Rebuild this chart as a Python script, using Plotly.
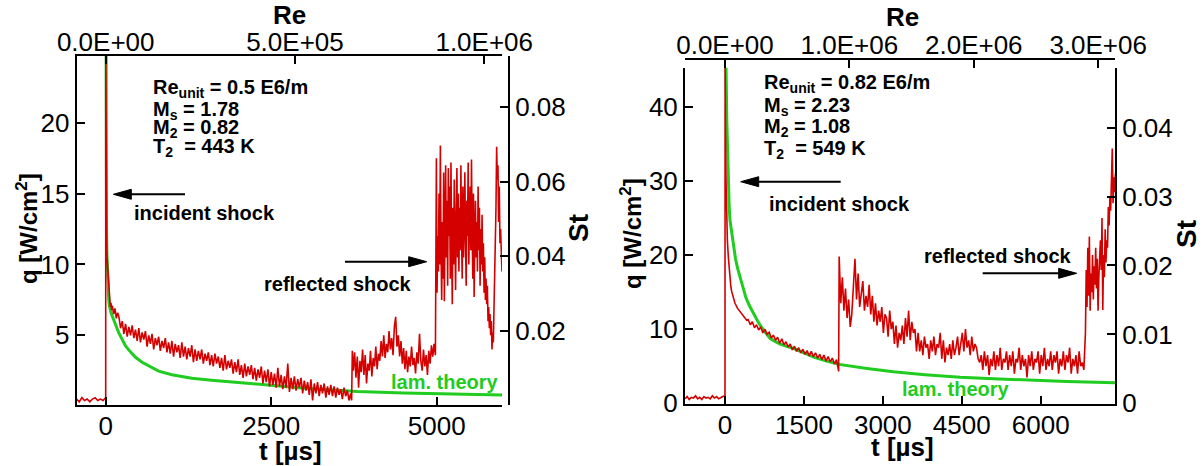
import plotly.graph_objects as go

W, H = 1204, 466
FONT = "Liberation Sans, Arial, Helvetica, sans-serif"
RED = "#d40000"
GREEN = "#1fcc1f"

# ---------------- left panel: measured heat flux q [W/cm^2] ----------------
L_BASE_T0, L_BASE_DT = -440, 40
L_BASE_Q = [0.5, 0.3, 0.6, 0.4, 0.5, 0.3, 0.5, 0.6, 0.4, 0.5, 0.4, 0.6]
L_RISE_T = [1, 3, 6, 10, 15, 20, 30, 40, 50, 60, 70, 80, 90, 100, 120, 140, 160, 180]
L_RISE_Q = [25.5, 21, 17, 14.5, 12, 10.5, 9.8, 8.5, 8.0, 7.6, 7.0, 7.3, 6.8, 7.1, 6.5, 6.9, 6.2, 6.6]
L_DECAY_T0, L_DECAY_DT = 200, 25
L_DECAY_Q = [
    6.3, 5.5, 6.0, 5.1, 5.8, 4.9, 5.6, 5.0, 5.7, 4.8,
    5.4, 4.6, 5.5, 4.5, 5.2, 4.7, 5.3, 4.2, 5.0, 4.4,
    5.1, 4.0, 4.8, 4.3, 4.9, 3.9, 4.6, 4.1, 4.8, 3.8,
    4.5, 3.7, 4.6, 3.5, 4.4, 3.8, 4.3, 3.4, 4.5, 3.5,
    4.2, 3.3, 4.1, 3.5, 4.3, 3.1, 4.0, 3.2, 3.9, 3.3,
    4.0, 3.0, 3.7, 3.2, 3.8, 2.9, 3.6, 2.8, 3.7, 3.0,
    3.5, 2.7, 3.4, 2.5, 3.6, 2.6, 3.2, 2.7, 3.3, 2.3,
    3.1, 2.4, 3.3, 2.2, 2.9, 2.0, 3.0, 2.1, 2.8, 2.2,
    2.9, 1.9, 2.7, 1.8, 2.6, 2.0, 2.8, 1.6, 2.5, 1.7,
    2.6, 1.4, 2.4, 1.5, 2.3, 1.3, 2.7, 1.4, 2.2, 1.2,
    2.1, 1.3, 3.0, 1.0, 2.0, 1.2, 2.1, 1.1, 1.9, 1.3,
    2.0, 0.9, 1.8, 1.1, 1.7, 0.8, 1.9, 0.4, 1.6, 0.9,
    1.7, 0.7, 1.5, 0.9, 1.6, 0.6, 1.4, 0.8, 1.5, 0.7,
    1.4, 0.6, 1.3, 0.8, 1.2, 0.5, 1.3, 0.7, 1.1, 0.4,
    0.9,
]
L_STEP_T = [3715, 3725]
L_STEP_Q = [0.4, 3.9]
L_MID_T0, L_MID_DT = 3740, 20
L_MID_Q = [
    2.5, 3.8, 2.0, 3.5, 1.3, 3.2, 2.4, 4.0, 2.2, 3.6,
    1.6, 3.0, 2.5, 3.9, 2.1, 3.4, 2.8, 4.2, 2.6, 3.7,
    3.2, 4.6, 3.5, 5.0, 3.4, 4.4, 3.8, 5.3, 4.0, 4.8,
    3.6, 5.6, 6.3, 4.2, 5.0, 3.5, 4.6, 3.0, 4.1, 2.6,
    3.9, 2.4, 3.5, 2.8, 4.2, 2.9, 3.4, 2.3, 3.8, 3.0,
    5.1, 3.2, 2.5, 4.0, 2.8, 3.6, 2.2, 3.9, 3.0, 4.3,
    3.5, 4.4, 3.6,
]
L_HIGH_T0, L_HIGH_DT = 4995, 10
L_HIGH_Q = [
    17.5, 8.0, 12.0, 9.5, 15.0, 10.0, 18.4, 11.0, 7.5, 13.0,
    9.0, 16.5, 7.4, 12.5, 17.0, 10.5, 14.5, 8.5, 16.8, 12.0,
    15.5, 9.0, 17.2, 11.5, 7.2, 14.0, 10.0, 16.0, 12.5, 8.2,
    13.5, 16.8, 10.5, 15.0, 9.5, 14.0, 11.0, 17.0, 12.0, 9.0,
    15.5, 10.5, 13.0, 16.5, 11.5, 8.5, 14.5, 12.0, 17.2, 10.0,
    13.5, 15.5, 11.0, 17.4, 12.5, 9.0, 15.0, 7.7, 12.0, 14.5,
    10.5, 13.0, 9.5, 15.5, 11.0, 14.0, 8.5, 12.5, 10.0, 13.5,
    9.5, 11.5, 8.0, 10.5, 7.5, 9.0, 7.2, 8.5, 6.0, 7.0,
    5.5, 6.5, 5.0, 6.0, 4.0, 5.2, 4.5, 6.8, 7.5, 10.0,
    14.0, 18.3, 16.0, 17.0, 13.0, 15.5, 11.5, 12.5, 10.3, 9.5,
]
# laminar theory, left panel
L_LAM_T = [0.5, 2, 4, 8, 12, 18, 25, 35, 45, 55, 65, 80, 100, 125, 150, 175, 200, 250,
           300, 370, 450, 550, 650, 800, 1000, 1300, 1600, 1830, 2000, 2500, 3000, 3500,
           3800, 4500, 5000, 5500, 5986]
L_LAM_Q = [40, 28, 21, 15.5, 12.8, 10.8, 9.4, 8.3, 7.6, 7.1, 6.8, 6.6, 6.35, 6.0, 5.7, 5.45,
           5.15, 4.65, 4.25, 3.85, 3.45, 3.1, 2.85, 2.47, 2.22, 1.97, 1.83, 1.73, 1.65, 1.44,
           1.27, 1.12, 1.04, 0.93, 0.87, 0.83, 0.79]

# ---------------- right panel ----------------
R_BASE_T0, R_BASE_DT = -760, 40
R_BASE_Q = [0.6, 0.9, 0.5, 0.8, 0.7, 1.0, 0.6, 0.8, 0.5, 0.9,
            0.7, 0.8, 0.6, 1.0, 0.7, 0.9, 0.6, 0.8, 0.9, 1.0]
R_RISE_T = [2, 5, 10, 20, 32, 45, 63, 80, 95, 110, 127, 160, 190, 240, 285, 350, 412]
R_RISE_Q = [46, 44, 36, 30, 25.2, 22, 19.8, 18, 16.6, 15.8, 15.1, 14.2, 13.5, 12.8, 12.4, 11.8, 11.2]
R_DECAY_T0, R_DECAY_DT = 440, 40
R_DECAY_Q = [
    11.3, 10.6, 11.0, 10.2, 10.6, 9.9, 10.3, 9.5, 10.0, 9.3,
    9.6, 8.8, 9.2, 8.5, 8.9, 8.1, 8.7, 7.9, 8.3, 7.6,
    8.0, 7.2, 7.7, 7.0, 7.5, 6.8, 7.3, 6.6, 7.1, 6.4,
    7.0, 6.3, 6.8, 6.1, 6.6, 5.9, 6.5, 5.7, 6.3, 5.6,
    6.1, 5.3, 5.9, 4.3,
]
R_MID_T0, R_MID_DT = 2170, 30
R_MID_Q = [
    19.8, 13.5, 17.0, 12.5, 15.5, 11.5, 14.0, 10.3, 12.0, 16.0,
    19.5, 14.0, 17.5, 13.0, 15.0, 16.5, 12.5, 14.5, 13.0, 16.0,
    12.0, 14.5, 11.0, 13.5, 10.5, 12.5, 11.0, 13.0, 9.5, 12.0,
    11.5, 9.0, 12.5, 10.0, 11.0, 8.0, 10.5, 7.5, 9.5, 8.5,
    10.5, 8.0, 11.5, 9.0, 12.5, 8.5, 11.0, 9.5, 10.0, 7.0,
    9.5, 7.0, 8.5, 6.5, 9.0, 7.5, 8.0, 6.0, 8.5, 7.0,
    9.0, 6.5, 8.0, 7.5, 9.5, 6.0, 8.5, 5.5, 7.5, 6.5,
    8.0, 6.0, 8.5, 6.5, 7.5, 9.0, 6.5, 8.0, 9.5, 7.0,
    10.0, 7.5, 8.5, 6.5, 9.0, 7.0, 8.0, 7.5, 6.0, 5.5,
    6.5, 4.5, 7.0, 5.0, 6.5, 3.8, 6.0, 5.0, 7.0, 4.5,
    6.5, 5.0, 7.5, 4.5, 6.0, 5.5, 7.0, 4.5, 6.5, 5.0,
    7.0, 4.0, 6.0, 5.5, 7.5, 4.5, 6.5, 5.0, 6.0, 3.5,
    6.5, 5.0, 7.0, 4.5, 6.0, 5.5, 7.0, 4.0, 6.5, 5.0,
    7.5, 4.5, 6.0, 5.0, 7.0, 4.5, 6.5, 5.5, 7.0, 4.0,
    6.0, 5.0, 7.0, 4.5, 6.5, 5.5, 7.5, 4.0, 6.0, 5.0,
    6.5, 4.0, 7.0, 5.0, 5.5, 4.5,
]
R_HIGH_T0, R_HIGH_DT = 6850, 15
R_HIGH_Q = [
    9.5, 18.0, 13.0, 21.0, 14.5, 22.5, 12.5, 17.5, 15.0, 20.0,
    14.0, 18.5, 16.0, 21.0, 15.5, 19.5, 12.5, 17.0, 20.5, 22.0,
    18.0, 25.0, 12.6, 20.0, 17.0, 23.5, 19.0, 22.0, 21.0, 26.5,
    24.0, 27.7, 26.0, 29.0, 34.4, 27.0, 30.5, 28.5, 31.0, 29.0,
    27.5,
]
R_LAM_T = [2, 10, 20, 35, 50, 65, 80, 95, 127, 160, 200, 240, 285, 340, 400, 470, 538, 620,
           700, 780, 855, 950, 1050, 1170, 1299, 1500, 1700, 1930, 2167, 2700, 3200, 3800,
           4466, 5100, 5734, 6500, 7444]
R_LAM_Q = [70, 52, 45.5, 38, 33, 29, 26.5, 24.7, 22.9, 21, 19.5, 18.2, 17.1, 15.6, 14.2, 13.1,
           12.1, 11.1, 10.2, 9.4, 8.76, 8.35, 8.0, 7.7, 7.4, 6.8, 6.2, 5.7, 5.25, 4.7, 4.25,
           3.85, 3.5, 3.3, 3.1, 2.95, 2.77]

# ---------------- ticks ----------------
L_T_TICKS = [0, 2500, 5000]
L_Q_TICKS = [5, 10, 15, 20]
L_RE_TICKS = [0, 5.0e5, 1.0e6]
L_RE_LABELS = ["0.0E+00", "5.0E+05", "1.0E+06"]
L_ST_TICKS = [0.02, 0.04, 0.06, 0.08]
L_ST_LABELS = ["0.02", "0.04", "0.06", "0.08"]
R_T_TICKS = [0, 1500, 3000, 4500, 6000]
R_Q_TICKS = [0, 10, 20, 30, 40]
R_RE_TICKS = [0, 1.0e6, 2.0e6, 3.0e6]
R_RE_LABELS = ["0.0E+00", "1.0E+06", "2.0E+06", "3.0E+06"]
R_ST_TICKS = [0, 0.01, 0.02, 0.03, 0.04]
R_ST_LABELS = ["0", "0.01", "0.02", "0.03", "0.04"]

L_PARAMS = ["Re<sub>unit</sub> = 0.5 E6/m", "M<sub>s</sub> = 1.78", "M<sub>2</sub> = 0.82", "T<sub>2</sub>  = 443 K"]
R_PARAMS = ["Re<sub>unit</sub> = 0.82 E6/m", "M<sub>s</sub> = 2.23", "M<sub>2</sub> = 1.08", "T<sub>2</sub>  = 549 K"]


def seg(t0, dt, vals):
    return [t0 + i * dt for i in range(len(vals))], list(vals)


def build(parts):
    ts, qs = [], []
    for t, q in parts:
        ts += t
        qs += q
    return ts, qs


LT, LQ = build([seg(L_BASE_T0, L_BASE_DT, L_BASE_Q), (L_RISE_T, L_RISE_Q),
                seg(L_DECAY_T0, L_DECAY_DT, L_DECAY_Q), (L_STEP_T, L_STEP_Q),
                seg(L_MID_T0, L_MID_DT, L_MID_Q), seg(L_HIGH_T0, L_HIGH_DT, L_HIGH_Q)])
RT, RQ = build([seg(R_BASE_T0, R_BASE_DT, R_BASE_Q), (R_RISE_T, R_RISE_Q),
                seg(R_DECAY_T0, R_DECAY_DT, R_DECAY_Q),
                seg(R_MID_T0, R_MID_DT, R_MID_Q), seg(R_HIGH_T0, R_HIGH_DT, R_HIGH_Q)])


def px(x):
    return x / W


def py(y):
    return 1 - y / H


fig = go.Figure()
fig.add_trace(go.Scatter(x=L_LAM_T, y=L_LAM_Q, mode="lines", line=dict(color=GREEN, width=3),
                         xaxis="x", yaxis="y", hoverinfo="skip"))
fig.add_trace(go.Scatter(x=LT, y=LQ, mode="lines", line=dict(color=RED, width=1.6),
                         xaxis="x", yaxis="y", hoverinfo="skip"))
fig.add_trace(go.Scatter(x=R_LAM_T, y=R_LAM_Q, mode="lines", line=dict(color=GREEN, width=3),
                         xaxis="x3", yaxis="y3", hoverinfo="skip"))
fig.add_trace(go.Scatter(x=RT, y=RQ, mode="lines", line=dict(color=RED, width=1.6),
                         xaxis="x3", yaxis="y3", hoverinfo="skip"))
# empty traces so that the secondary (Re / St) axes are created and drawn
fig.add_trace(go.Scatter(x=[None], y=[None], mode="lines", xaxis="x2", yaxis="y2", hoverinfo="skip"))
fig.add_trace(go.Scatter(x=[None], y=[None], mode="lines", xaxis="x4", yaxis="y4", hoverinfo="skip"))

tickfont = dict(family=FONT, size=26, color="black")
common = dict(showgrid=False, zeroline=False, showline=True, linecolor="black", linewidth=2,
              ticks="inside", ticklen=8, tickwidth=2, tickcolor="black", tickfont=tickfont,
              tickmode="array", automargin=False)

fig.update_layout(
    width=W, height=H, margin=dict(l=0, r=0, t=0, b=0, autoexpand=False),
    paper_bgcolor="white", plot_bgcolor="white", showlegend=False,
    xaxis=dict(common, domain=[px(76.7), px(502)], range=[-438, 5986], anchor="y",
               tickvals=L_T_TICKS, ticklabelstandoff=-3),
    yaxis=dict(common, domain=[py(405), py(55.5)], range=[0.08, 24.75], anchor="x",
               tickvals=L_Q_TICKS),
    xaxis2=dict(common, overlaying="x", side="top", anchor="y", ticklabelstandoff=-8,
                range=[-438 * 174.9, 5986 * 174.9], tickvals=L_RE_TICKS, ticktext=L_RE_LABELS),
    yaxis2=dict(common, overlaying="y", side="right", anchor="free", position=px(509),
                range=[0.0002, 0.0938], tickvals=L_ST_TICKS, ticktext=L_ST_LABELS),
    xaxis3=dict(common, domain=[px(685), px(1115)], range=[-760, 7412], anchor="y3",
                tickvals=R_T_TICKS, ticklabelstandoff=-3),
    yaxis3=dict(common, domain=[py(404), py(67.7)], range=[-0.1, 45.3], anchor="x3",
                tickvals=R_Q_TICKS),
    xaxis4=dict(common, overlaying="x3", side="top", anchor="free", position=py(58.5),
                ticklabelstandoff=-7,
                range=[-321560, 3135210], tickvals=R_RE_TICKS, ticktext=R_RE_LABELS),
    yaxis4=dict(common, overlaying="y3", side="right", anchor="x3",
                range=[-0.0001, 0.0487], tickvals=R_ST_TICKS, ticktext=R_ST_LABELS),
)

ann = []


def text(x, y, s, size, color="black", xanchor="center", angle=0):
    ann.append(dict(x=px(x), y=py(y), xref="paper", yref="paper", text=s, showarrow=False,
                    xanchor=xanchor, yanchor="middle", textangle=angle,
                    font=dict(family=FONT, size=size, color=color)))


# axis titles
text(289, 15, "<b>Re</b>", 26)
text(902, 17, "<b>Re</b>", 26)
text(290, 451, "<b>t [µs]</b>", 26)
text(902, 447, "<b>t [µs]</b>", 26)
text(27, 229, "<b>q [W/cm<sup>2</sup>]</b>", 24, angle=-90)
text(631, 234, "<b>q [W/cm<sup>2</sup>]</b>", 24, angle=-90)
text(578, 228, "<b>St</b>", 28, angle=-90)
text(1186, 234, "<b>St</b>", 28, angle=-90)

# parameter blocks
for s, y in zip(L_PARAMS, [89, 110, 128, 147.5]):
    text(150.7, y, "<b>" + s + "</b>", 20, xanchor="left")
for s, y in zip(R_PARAMS, [84, 107, 127.5, 149]):
    text(761.7, y, "<b>" + s + "</b>", 20, xanchor="left")

text(204, 213, "<b>incident shock</b>", 20)
text(338, 283.5, "<b>reflected shock</b>", 20)
text(839, 204, "<b>incident shock</b>", 20)
text(997.5, 255.5, "<b>reflected shock</b>", 20)
text(445, 382, "<b>lam. theory</b>", 20, color=GREEN)
text(955.5, 389, "<b>lam. theory</b>", 20, color=GREEN)

fig.update_layout(annotations=ann)

# arrows (tail -> tip, horizontal)
shapes = []


def arrow(x_tail, x_tip, y, head=18, half=5):
    d = 1 if x_tip > x_tail else -1
    base = x_tip - d * head
    shapes.append(dict(type="line", xref="paper", yref="paper", x0=px(x_tail), x1=px(base),
                       y0=py(y), y1=py(y), line=dict(color="black", width=2)))
    path = "M {} {} L {} {} L {} {} Z".format(px(x_tip), py(y), px(base), py(y - half),
                                              px(base), py(y + half))
    shapes.append(dict(type="path", xref="paper", yref="paper", path=path,
                       fillcolor="black", line=dict(color="black", width=1)))


arrow(185, 113.3, 194.3)
arrow(345, 426.7, 261.7)
arrow(840.7, 740.7, 181.7)
arrow(982.7, 1076.7, 273.3)
fig.update_layout(shapes=shapes)

fig.write_html("out.html")
